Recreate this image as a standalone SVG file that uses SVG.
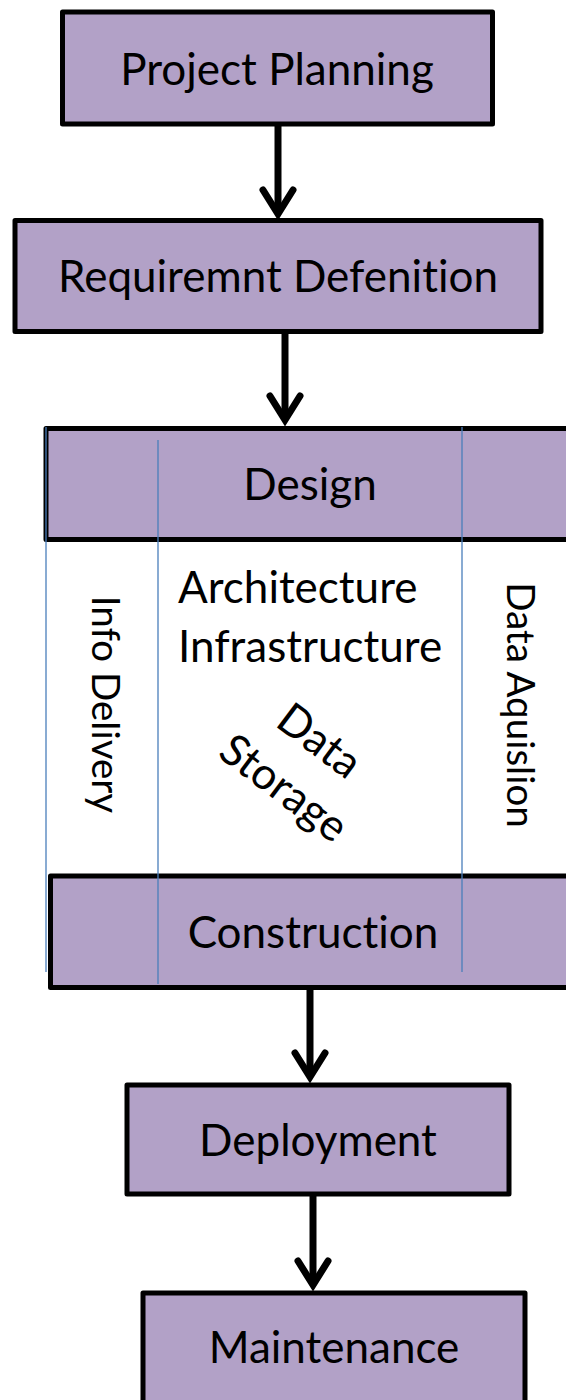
<svg xmlns="http://www.w3.org/2000/svg" width="566" height="1400" viewBox="0 0 566 1400">
<style>
.box{fill:#b2a1c7;stroke:#000;stroke-width:5;stroke-linejoin:round}
.lbl{font-family:Lato,"Open Sans","Liberation Sans",sans-serif;font-size:44px;fill:#000;text-anchor:middle;font-variant-ligatures:none}
.lft{text-anchor:start}
.rot{font-family:Lato,"Open Sans","Liberation Sans",sans-serif;font-size:38.5px;fill:#000;text-anchor:middle;font-variant-ligatures:none}
.lane{stroke:#4a7ebb;stroke-width:1.3;fill:none}
.shaft{stroke:#000;stroke-width:7;fill:none}
.head{stroke:#000;stroke-width:7;fill:none;stroke-linecap:round;stroke-linejoin:miter}
</style>
<rect width="566" height="1400" fill="#fff"/>
<g id="project-planning">
<rect class="box" x="62.5" y="12" width="430" height="112"/>
<text class="lbl" x="277" y="85">Project Planning</text>
</g>
<g id="requirement-definition">
<rect class="box" x="15" y="220.5" width="526" height="111"/>
<text class="lbl" x="278" y="292">Requiremnt Defenition</text>
</g>
<g id="design">
<rect class="box" x="46" y="428.5" width="540" height="111"/>
<text class="lbl" x="310" y="500">Design</text>
</g>
<g id="construction">
<rect class="box" x="50.5" y="876" width="540" height="111.5"/>
<text class="lbl" x="313" y="948">Construction</text>
</g>
<g id="deployment">
<rect class="box" x="127" y="1085" width="382" height="109"/>
<text class="lbl" x="318" y="1156">Deployment</text>
</g>
<g id="maintenance">
<rect class="box" x="143" y="1293" width="382" height="120"/>
<text class="lbl" x="334" y="1363">Maintenance</text>
</g>
<g id="lanes">
<line class="lane" x1="46" y1="427" x2="46" y2="972"/>
<line class="lane" x1="158" y1="440" x2="158" y2="984"/>
<line class="lane" x1="462" y1="427" x2="462" y2="972"/>
</g>
<g id="info-delivery">
<text class="rot" transform="translate(92,704.5) rotate(90)">Info Delivery</text>
</g>
<g id="architecture-infrastructure">
<text class="lbl lft" x="178" y="603">Architecture</text>
<text class="lbl lft" x="178" y="662">Infrastructure</text>
</g>
<g id="data-storage">
<text class="lbl" transform="translate(302,764) rotate(37)"><tspan x="0" y="-14">Data</tspan><tspan x="0" y="45">Storage</tspan></text>
</g>
<g id="data-aquislion">
<text class="rot" transform="translate(507,705) rotate(90)">Data Aquislion</text>
</g>
<g id="connectors">
<line class="shaft" x1="278" y1="126" x2="278" y2="212"/>
<polyline class="head" points="263,190 278,214 293,190"/>
<line class="shaft" x1="285" y1="334" x2="285" y2="420"/>
<polyline class="head" points="270,396 285,420 300,396"/>
<line class="shaft" x1="310" y1="990" x2="310" y2="1076"/>
<polyline class="head" points="295,1053 310,1077 325,1053"/>
<line class="shaft" x1="313" y1="1196" x2="313" y2="1284"/>
<polyline class="head" points="298,1261 313,1285 328,1261"/>
</g>
</svg>
